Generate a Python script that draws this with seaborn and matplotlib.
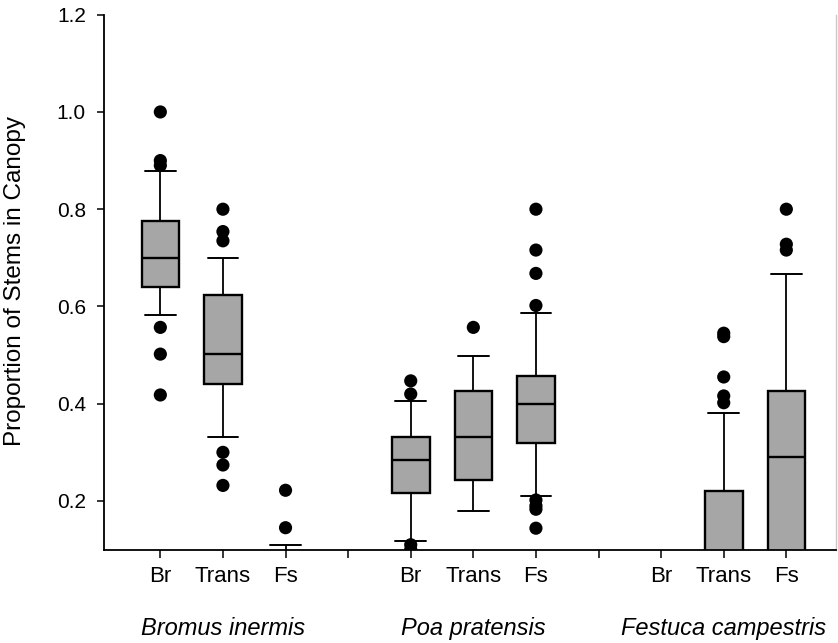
import matplotlib
matplotlib.use("Agg")
import matplotlib.pyplot as plt
import matplotlib.transforms as mtransforms
import seaborn as sns
import pandas as pd

# ---------------- data ----------------
species = ["Bromus inermis", "Poa pratensis", "Festuca campestris"]
treatments = ["Br", "Trans", "Fs"]

# box statistics, order: (species x treatment)
whisker_low = [0.582, 0.332, 0.00, 0.118, 0.179, 0.210, 0.00, 0.00, 0.00]
quartile1   = [0.641, 0.440, 0.00, 0.216, 0.243, 0.320, 0.00, 0.00, 0.00]
medians     = [0.700, 0.502, 0.00, 0.284, 0.331, 0.400, 0.00, 0.00, 0.291]
quartile3   = [0.776, 0.624, 0.00, 0.332, 0.426, 0.458, 0.00, 0.221, 0.427]
whisker_high = [0.879, 0.700, 0.11, 0.406, 0.499, 0.587, 0.00, 0.381, 0.666]

outliers = [
    [1.00, 0.90, 0.89, 0.557, 0.502, 0.418],
    [0.80, 0.754, 0.735, 0.30, 0.274, 0.232],
    [0.222, 0.145],
    [0.447, 0.420, 0.110, 0.100],
    [0.557],
    [0.80, 0.716, 0.668, 0.602, 0.202, 0.190, 0.183, 0.144],
    [],
    [0.545, 0.538, 0.455, 0.416, 0.402],
    [0.80, 0.728, 0.716],
]

y_ticks = [0.2, 0.4, 0.6, 0.8, 1.0, 1.2]

# ---------------- style ----------------
sns.set_style("ticks")
plt.rcParams["font.family"] = ["Liberation Sans", "DejaVu Sans"]
plt.rcParams["text.color"] = "black"
plt.rcParams["axes.labelcolor"] = "black"
plt.rcParams["xtick.color"] = "black"
plt.rcParams["ytick.color"] = "black"
plt.rcParams["xtick.labelcolor"] = "black"
plt.rcParams["ytick.labelcolor"] = "black"

fig = plt.figure(figsize=(8.38, 6.43), dpi=100)
ax = fig.add_axes([0.1241, 1 - 549.6 / 643, 0.874, (549.6 - 14.7) / 643])

# positions: 3 per species with a gap slot between groups
n_t = len(treatments)
positions = [g * (n_t + 1) + k for g in range(len(species)) for k in range(n_t)]
labels = [t for _ in species for t in treatments]

stats = []
for i in range(len(positions)):
    stats.append(dict(whislo=whisker_low[i], q1=quartile1[i], med=medians[i],
                      q3=quartile3[i], whishi=whisker_high[i], fliers=[]))

box_color = "#a6a6a6"
ax.bxp(stats, positions=positions, widths=0.6, patch_artist=True,
       showfliers=False,
       boxprops=dict(facecolor=box_color, edgecolor="black", linewidth=1.7),
       medianprops=dict(color="black", linewidth=1.7),
       whiskerprops=dict(color="black", linewidth=1.3),
       capprops=dict(color="black", linewidth=1.4),
       capwidths=0.49, manage_ticks=False)

# outliers via seaborn
rows = []
for pos, vals in zip(positions, outliers):
    for v in vals:
        rows.append({"pos": pos, "value": v})
df_out = pd.DataFrame(rows)
sns.scatterplot(data=df_out, x="pos", y="value", ax=ax, color="black",
                s=90, edgecolor="none", legend=False, zorder=5, clip_on=True)

# ---------------- axes ----------------
ax.set_ylim(0.1, 1.2)
ax.set_xlim(-0.9, 10.8)
ax.set_yticks(y_ticks)
ax.set_yticklabels([f"{t:.1f}" for t in y_ticks], fontsize=15)

all_ticks = list(range(positions[-1] + 1))
tick_text = []
for t in all_ticks:
    tick_text.append(labels[positions.index(t)] if t in positions else "")
ax.set_xticks(all_ticks)
ax.set_xticklabels(tick_text, fontsize=16)
ax.set_xlabel("")

ax.tick_params(axis="y", direction="out", length=5, width=1.1, pad=8)
ax.tick_params(axis="x", direction="out", length=6, width=1.1, pad=6)

ax.spines["top"].set_visible(False)
ax.spines["right"].set_color("#c8c8c8")
ax.spines["right"].set_linewidth(1.0)
for s in ["left", "bottom"]:
    ax.spines[s].set_color("black")
    ax.spines[s].set_linewidth(1.3)

ax.set_ylabel("Proportion of Stems in Canopy", fontsize=17.5)
ax.yaxis.set_label_coords(-0.106, 0.502)

# species group labels
trans = mtransforms.blended_transform_factory(ax.transData, ax.transAxes)
for g, name in enumerate(species):
    center = positions[g * n_t + 1]
    ax.text(center, -0.148, name, transform=trans, ha="center", va="center",
            fontsize=17, style="italic")

fig.savefig("out.png", dpi=100)
